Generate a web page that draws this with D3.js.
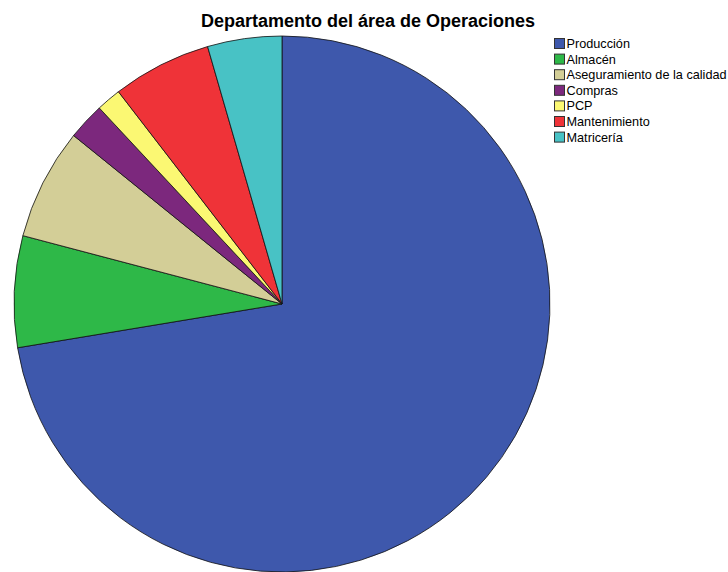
<!DOCTYPE html>
<html>
<head>
<meta charset="utf-8">
<script src="https://cdn.jsdelivr.net/npm/d3@7"></script>
<style>
  html, body { margin: 0; padding: 0; background: #fff; }
  svg { display: block; }
</style>
</head>
<body>
<div id="chart"></div>
<script>
// Departments of the Operations area (counts)
const categories = ["Producción", "Almacén", "Aseguramiento de la calidad", "Compras", "PCP", "Mantenimiento", "Matricería"];
const counts = [97, 9, 9, 3, 2, 8, 6];
const colors = ["#3E58AC", "#2EB848", "#D3CE97", "#7C287D", "#FBF873", "#EF3338", "#48C2C5"];
const title = "Departamento del área de Operaciones";

const width = 728, height = 572;
const cx = 282, cy = 304, radius = 268;

const svg = d3.select("#chart").append("svg")
  .attr("width", width).attr("height", height);

svg.append("text")
  .attr("x", 368).attr("y", 27)
  .attr("text-anchor", "middle")
  .style("font-family", "Liberation Sans, Arial, sans-serif")
  .style("font-weight", "bold")
  .style("font-size", "18px")
  .attr("fill", "#000")
  .text(title);

const data = categories.map((c, i) => ({ name: c, value: counts[i], color: colors[i] }));

const pie = d3.pie().value(d => d.value).sort(null);
const arc = d3.arc().innerRadius(0).outerRadius(radius);

const g = svg.append("g").attr("transform", `translate(${cx},${cy})`);
g.selectAll("path")
  .data(pie(data))
  .join("path")
  .attr("d", arc)
  .attr("fill", d => d.data.color)
  .attr("stroke", "#111")
  .attr("stroke-width", 0.8)
  .attr("stroke-linejoin", "round");

// Legend
const legendY = d3.scaleBand().domain(categories).range([38, 38 + 15.6 * categories.length]);
const legend = svg.append("g").attr("transform", "translate(554,0)");
const items = legend.selectAll("g").data(data).join("g")
  .attr("transform", d => `translate(0,${legendY(d.name)})`);
items.append("rect")
  .attr("x", 0.5).attr("y", 0.5)
  .attr("width", 10).attr("height", 10)
  .attr("fill", d => d.color)
  .attr("stroke", "#333").attr("stroke-width", 1);
items.append("text")
  .attr("x", 12.5).attr("y", 10)
  .style("font-family", "Liberation Sans, Arial, sans-serif")
  .style("font-size", "12.7px")
  .attr("fill", "#000")
  .text(d => d.name);
</script>
</body>
</html>
